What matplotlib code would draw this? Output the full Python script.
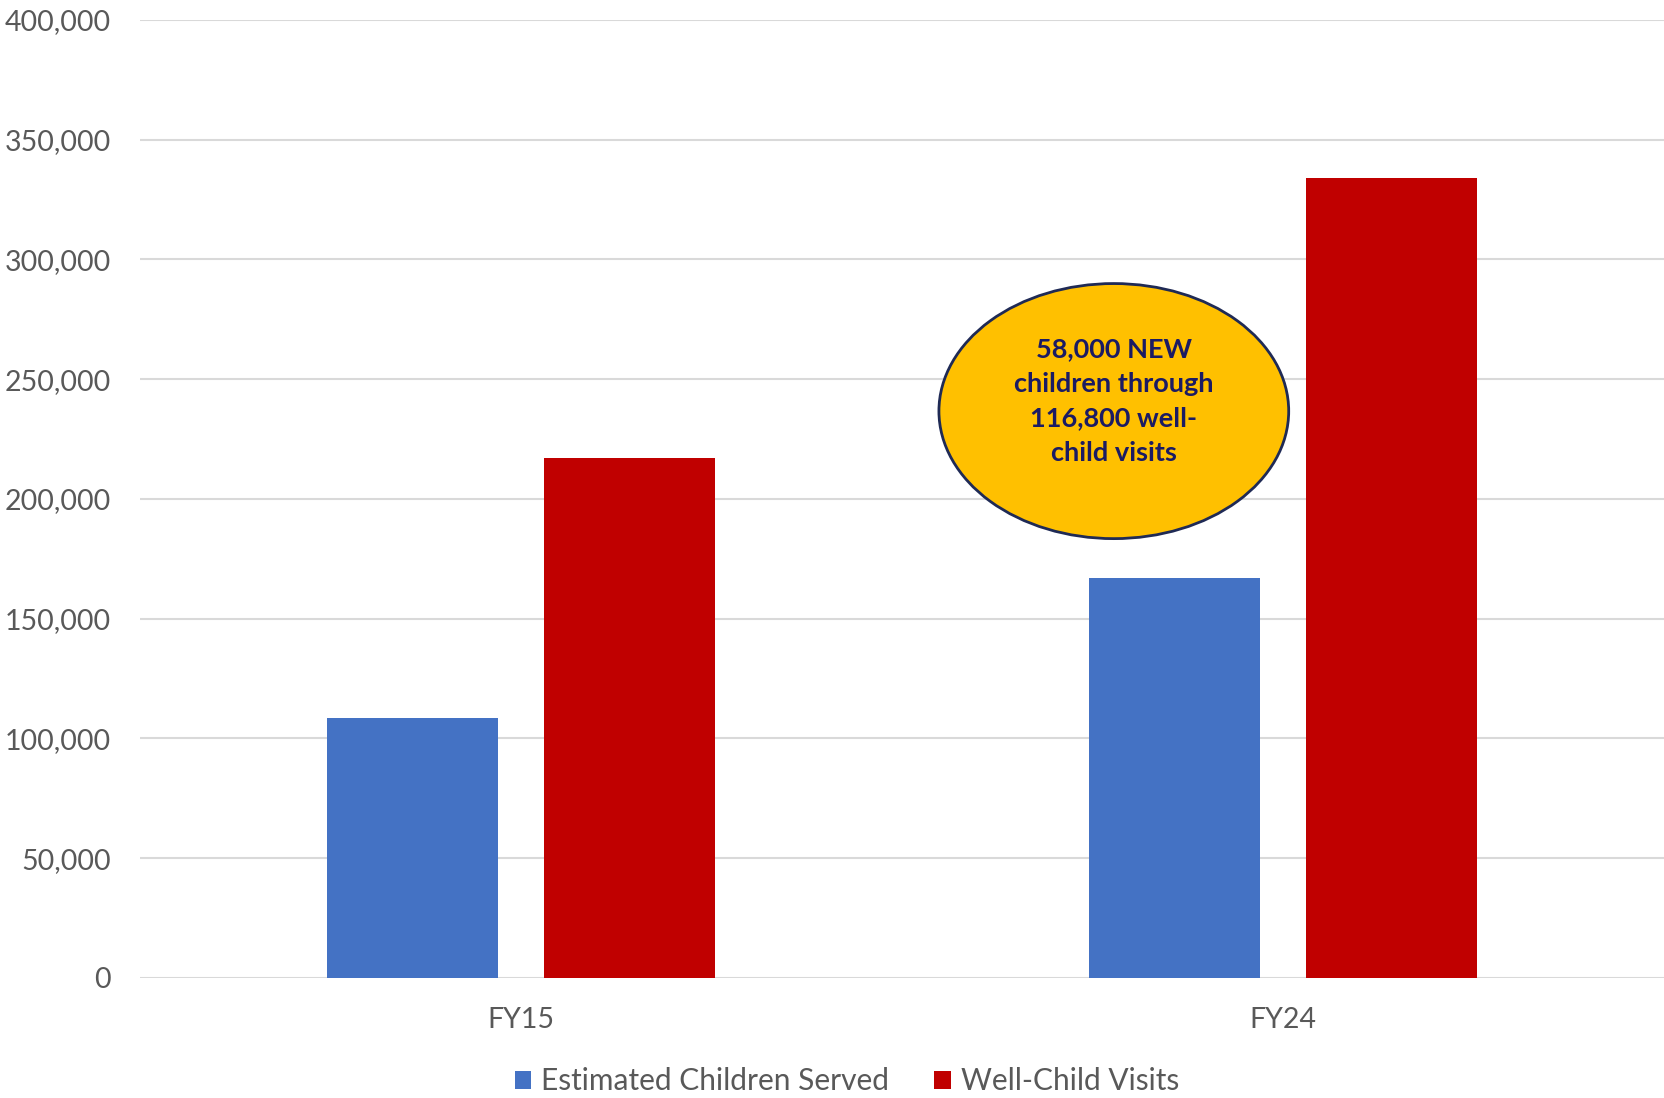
import matplotlib.pyplot as plt
import numpy as np
from matplotlib.patches import Ellipse

categories = ['FY15', 'FY24']
children_served = [108600, 167000]
well_child_visits = [217100, 334000]
series_names = ['Estimated Children Served', 'Well-Child Visits']
note = '58,000 NEW\nchildren through\n116,800 well-\nchild visits'

plt.rcParams['font.family'] = ['Lato', 'DejaVu Sans']

fig = plt.figure(figsize=(16.64, 10.98), dpi=100)
ax = fig.add_axes([0.0841, 0.1093, 0.9159, 0.8725])

x = np.arange(len(categories))
w = 0.2244
off = 0.1424
ax.bar(x - off, children_served, w, color='#4472C4', label=series_names[0], zorder=3)
ax.bar(x + off, well_child_visits, w, color='#C00000', label=series_names[1], zorder=3)

ax.set_xlim(-0.5, 1.5)
ax.set_ylim(0, 400000)
ax.set_yticks(np.arange(0, 400001, 50000))
ax.yaxis.set_major_formatter(plt.FuncFormatter(lambda v, p: f'{int(v):,}'))
ax.set_xticks(x)
ax.set_xticklabels(categories)
ax.tick_params(axis='y', length=0, pad=21, labelsize=20.5, labelcolor='#595959')
ax.tick_params(axis='x', length=0, pad=21, labelsize=20.5, labelcolor='#595959')
ax.grid(axis='y', color='#D9D9D9', lw=1.5, zorder=0)
for s in ax.spines.values():
    s.set_visible(False)

# callout bubble
ell = Ellipse((0.778, 236700), 0.459, 106500, facecolor='#FFC000',
              edgecolor='#1F2A55', lw=2, zorder=4)
ax.add_patch(ell)
ax.text(0.778, 240900, note, ha='center', va='center', fontsize=19.5,
        fontweight='bold', color='#1B1B63', linespacing=1.53, zorder=5)

leg = fig.legend(loc='lower center', bbox_to_anchor=(0.509, -0.022), ncol=2,
                 frameon=False, fontsize=21.5, handlelength=0.55, handleheight=0.55,
                 handletextpad=0.35, columnspacing=1.5)
for t in leg.get_texts():
    t.set_color('#595959')

fig.savefig('out.png', dpi=100)
